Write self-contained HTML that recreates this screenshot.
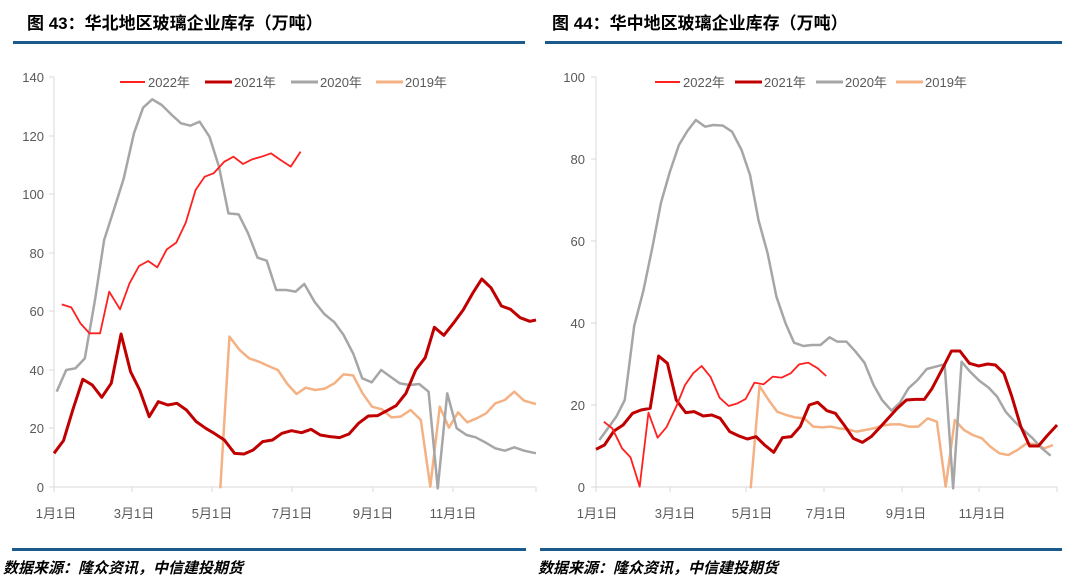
<!DOCTYPE html>
<html><head><meta charset="utf-8"><style>
body{margin:0;width:1080px;height:587px;background:#fff;overflow:hidden;}
svg{display:block;}
text{font-family:"Liberation Sans","Noto Sans CJK SC",sans-serif;}
</style></head><body>
<svg width="1080" height="587" viewBox="0 0 1080 587" xmlns="http://www.w3.org/2000/svg">
<g font-weight="bold" font-size="17" fill="#000">
<text x="27" y="29">图 43：华北地区玻璃企业库存（万吨）</text>
<text x="552" y="29">图 44：华中地区玻璃企业库存（万吨）</text>
</g>
<rect x="13" y="41" width="512" height="3" fill="#1a5a8c"/>
<rect x="545" y="41" width="517" height="3" fill="#1a5a8c"/>
<rect x="12" y="548" width="514" height="3" fill="#1a5a8c"/>
<rect x="540" y="548" width="522" height="3" fill="#1a5a8c"/>
<g font-weight="bold" font-style="italic" font-size="15" fill="#000">
<text x="3" y="573">数据来源：隆众资讯，中信建投期货</text>
<text x="538" y="573">数据来源：隆众资讯，中信建投期货</text>
</g>

<!-- left axes -->
<g stroke="#d9d9d9" stroke-width="1" fill="none">
<path d="M54 77V487H536"/>
<path d="M49 77H54M49 136H54M49 194H54M49 253H54M49 311H54M49 370H54M49 428H54M49 487H54"/>
<path d="M54 487v5M132 487v5M212 487v5M292 487v5M373 487v5M453 487v5M536 487v5"/>
</g>
<g font-size="13" fill="#595959" text-anchor="end">
<text x="44" y="82">140</text><text x="44" y="141">120</text><text x="44" y="199">100</text><text x="44" y="258">80</text><text x="44" y="316">60</text><text x="44" y="375">40</text><text x="44" y="433">20</text><text x="44" y="492">0</text>
</g>
<g font-size="13" fill="#595959" text-anchor="middle">
<text x="56" y="518">1月1日</text><text x="134" y="518">3月1日</text><text x="212" y="518">5月1日</text><text x="292" y="518">7月1日</text><text x="373" y="518">9月1日</text><text x="453" y="518">11月1日</text>
</g>
<g font-size="13" fill="#595959">
<line x1="120" y1="82" x2="145" y2="82" stroke="#ff2020" stroke-width="2"/><text x="148" y="87">2022年</text>
<line x1="205" y1="82" x2="232" y2="82" stroke="#c00000" stroke-width="3"/><text x="234" y="87">2021年</text>
<line x1="291" y1="82" x2="318" y2="82" stroke="#a6a6a6" stroke-width="3"/><text x="320" y="87">2020年</text>
<line x1="376" y1="82" x2="403" y2="82" stroke="#f4b183" stroke-width="3"/><text x="405" y="87">2019年</text>
</g>
<g transform="matrix(0.3387,0,0,0.33333,17.76,60)" fill="none" stroke-linejoin="round">
<polyline vector-effect="non-scaling-stroke" stroke="#f4b183" stroke-width="2.5" points="598,1285 625,830 655,870 683,895 712,905 740,918 768,930 796,972 823,1002 850,983 878,990 906,986 935,970 962,943 990,946 1018,1000 1046,1040 1075,1048 1103,1072 1130,1070 1160,1050 1190,1080 1218,1280 1246,1040 1273,1103 1300,1057 1327,1087 1355,1075 1383,1060 1410,1030 1438,1020 1466,995 1495,1022 1530,1032"/>
<polyline vector-effect="non-scaling-stroke" stroke="#a6a6a6" stroke-width="2.5" points="115,995 143,930 170,925 198,895 228,720 255,540 285,445 313,355 343,220 370,143 397,118 425,135 455,165 482,190 510,197 537,185 566,230 594,320 622,460 652,463 680,520 708,593 735,602 763,690 793,690 820,695 846,672 876,725 905,762 935,787 962,825 991,882 1017,955 1045,967 1073,930 1100,950 1128,970 1158,975 1185,972 1213,995 1240,1285 1268,1000 1296,1105 1325,1125 1352,1132 1380,1147 1410,1165 1438,1172 1466,1162 1495,1172 1530,1180"/>
<polyline vector-effect="non-scaling-stroke" stroke="#c00000" stroke-width="3" points="107,1180 135,1142 163,1048 192,958 220,975 248,1012 276,970 305,822 333,935 360,990 388,1070 415,1025 443,1035 470,1030 498,1050 527,1085 555,1105 580,1120 610,1140 640,1180 668,1182 695,1170 723,1145 752,1140 780,1120 808,1112 838,1118 866,1108 893,1125 922,1130 950,1133 978,1122 1006,1090 1035,1068 1062,1067 1090,1052 1117,1037 1146,1000 1175,930 1203,893 1230,802 1258,826 1286,790 1315,750 1343,700 1370,657 1397,683 1428,738 1455,748 1483,773 1512,784 1530,780"/>
<polyline vector-effect="non-scaling-stroke" stroke="#ff2020" stroke-width="1.8" points="130,733 158,742 185,790 212,820 243,820 270,695 302,748 330,670 358,618 385,603 412,622 440,568 468,548 496,488 525,390 552,350 578,340 610,305 637,290 665,312 692,298 720,290 748,280 776,300 806,320 835,275"/>
</g>

<!-- right axes -->
<g stroke="#d9d9d9" stroke-width="1" fill="none">
<path d="M596 77V487H1057"/>
<path d="M591 77H596M591 159H596M591 241H596M591 323H596M591 405H596M591 487H596"/>
<path d="M596 487v5M670 487v5M746 487v5M824 487v5M902 487v5M979 487v5M1057 487v5"/>
</g>
<g font-size="13" fill="#595959" text-anchor="end">
<text x="585" y="82">100</text><text x="585" y="164">80</text><text x="585" y="246">60</text><text x="585" y="328">40</text><text x="585" y="410">20</text><text x="585" y="492">0</text>
</g>
<g font-size="13" fill="#595959" text-anchor="middle">
<text x="597" y="518">1月1日</text><text x="675" y="518">3月1日</text><text x="752" y="518">5月1日</text><text x="826" y="518">7月1日</text><text x="906" y="518">9月1日</text><text x="982" y="518">11月1日</text>
</g>
<g font-size="13" fill="#595959">
<line x1="655" y1="82" x2="680" y2="82" stroke="#ff2020" stroke-width="2"/><text x="683" y="87">2022年</text>
<line x1="735" y1="82" x2="762" y2="82" stroke="#c00000" stroke-width="3"/><text x="764" y="87">2021年</text>
<line x1="816" y1="82" x2="843" y2="82" stroke="#a6a6a6" stroke-width="3"/><text x="845" y="87">2020年</text>
<line x1="896" y1="82" x2="923" y2="82" stroke="#f4b183" stroke-width="3"/><text x="925" y="87">2019年</text>
</g>
<g transform="matrix(0.3385,0,0,0.33333,540.15,60)" fill="none" stroke-linejoin="round">
<polyline vector-effect="non-scaling-stroke" stroke="#f4b183" stroke-width="2.5" points="622,1285 648,978 675,1020 700,1055 727,1065 752,1072 780,1075 807,1100 833,1102 858,1100 883,1105 908,1108 935,1115 960,1110 986,1105 1012,1097 1037,1093 1063,1093 1090,1100 1117,1100 1145,1075 1172,1085 1198,1280 1225,1080 1252,1110 1278,1125 1305,1135 1330,1160 1357,1180 1383,1185 1410,1170 1437,1150 1465,1153 1490,1165 1515,1155"/>
<polyline vector-effect="non-scaling-stroke" stroke="#a6a6a6" stroke-width="2.5" points="175,1140 200,1105 225,1070 250,1020 278,797 305,692 332,560 357,428 383,336 410,255 435,213 460,180 487,200 512,195 540,197 567,215 595,270 620,345 645,480 672,580 698,710 725,790 750,848 778,858 803,855 828,855 855,832 878,845 905,845 932,875 958,908 985,975 1010,1020 1038,1052 1063,1028 1088,985 1115,960 1142,927 1168,920 1195,913 1220,1285 1245,905 1270,935 1297,962 1325,983 1350,1010 1375,1055 1402,1085 1428,1110 1455,1135 1480,1163 1508,1187"/>
<polyline vector-effect="non-scaling-stroke" stroke="#c00000" stroke-width="3" points="165,1168 190,1155 218,1113 245,1095 273,1060 298,1050 325,1045 350,888 376,910 402,1020 430,1058 455,1055 482,1068 507,1065 532,1075 560,1115 585,1127 612,1137 638,1130 663,1155 690,1177 716,1133 742,1130 768,1100 795,1035 820,1027 847,1052 872,1060 898,1095 925,1135 952,1147 978,1130 1003,1103 1030,1073 1055,1045 1082,1020 1108,1018 1135,1018 1158,985 1190,923 1215,873 1240,873 1268,910 1295,918 1322,912 1345,915 1370,940 1393,1008 1420,1100 1446,1158 1472,1158 1497,1128 1527,1095"/>
<polyline vector-effect="non-scaling-stroke" stroke="#ff2020" stroke-width="1.8" points="188,1085 213,1105 242,1165 267,1192 294,1280 320,1058 347,1133 373,1102 402,1040 428,975 452,940 477,918 503,950 530,1013 557,1038 583,1030 607,1017 633,968 660,973 687,950 713,953 740,940 765,913 792,908 820,925 845,948"/>
</g>
</svg>
</body></html>
